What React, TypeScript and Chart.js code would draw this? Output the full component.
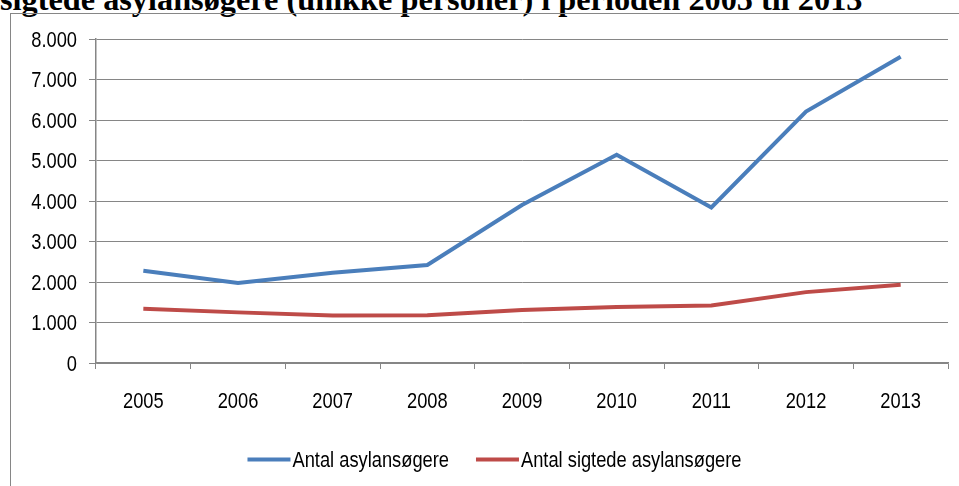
import React, { useEffect, useRef } from "react";
import { Chart, registerables } from "chart.js";

Chart.register(...registerables);

const TITLE = "sigtede asylansøgere (unikke personer) i perioden 2005 til 2013";
const years = ["2005", "2006", "2007", "2008", "2009", "2010", "2011", "2012", "2013"];
const asylumSeekers = [2280, 1975, 2230, 2420, 3900, 5140, 3840, 6210, 7560];
const chargedAsylumSeekers = [1340, 1250, 1170, 1180, 1310, 1380, 1420, 1750, 1930];
const seriesLabels = ["Antal asylansøgere", "Antal sigtede asylansøgere"];
const yMin = 0;
const yMax = 8000;
const yStep = 1000;

// Arial Narrow look: Liberation Sans squeezed horizontally to 82 %
const FONT = "'Liberation Sans', Arial, sans-serif";
const FONT_SIZE = 22.3;
const NARROW = 0.82;
const BLUE = "#4a7ebb";
const RED = "#be4b48";
const GRID = "#868686";

const formatDa = (v: number) => String(v).replace(/\B(?=(\d{3})+(?!\d))/g, ".");

function narrowText(
  ctx: CanvasRenderingContext2D,
  text: string,
  x: number,
  y: number,
  align: CanvasTextAlign
) {
  ctx.save();
  ctx.translate(x, y);
  ctx.scale(NARROW, 1);
  ctx.textAlign = align;
  ctx.textBaseline = "alphabetic";
  ctx.fillText(text, 0, 0);
  ctx.restore();
}

const labelsPlugin = {
  id: "narrowLabels",
  afterDraw(chart: any) {
    const ctx = chart.ctx as CanvasRenderingContext2D;
    ctx.save();
    ctx.font = `${FONT_SIZE}px ${FONT}`;
    ctx.fillStyle = "#000";
    const capHalf = FONT_SIZE * 0.358;

    // y axis labels
    const ys = chart.scales.y;
    for (const t of ys.ticks) {
      const py = ys.getPixelForValue(t.value);
      narrowText(ctx, formatDa(t.value), ys.right - 19, py + capHalf, "right");
    }
    // x axis labels
    const xs = chart.scales.x;
    xs.ticks.forEach((t: any, i: number) => {
      const px = xs.getPixelForTick(i);
      narrowText(ctx, String(xs.getLabelForValue(t.value)), px, 400 + capHalf, "center");
    });

    // legend
    const LINE_LEN = 43;
    const GAP = 2;
    const ITEM_GAP = 27;
    const cx = 494.5;
    const cy = 459.4;
    const items = chart.data.datasets.map((ds: any) => ({
      label: ds.label as string,
      color: ds.borderColor as string,
      w: ctx.measureText(ds.label).width * NARROW,
    }));
    const total =
      items.reduce((s: number, it: any) => s + LINE_LEN + GAP + it.w, 0) +
      ITEM_GAP * (items.length - 1);
    let x = cx - total / 2;
    for (const it of items) {
      ctx.beginPath();
      ctx.strokeStyle = it.color;
      ctx.lineWidth = 4;
      ctx.lineCap = "butt";
      ctx.moveTo(x, cy);
      ctx.lineTo(x + LINE_LEN, cy);
      ctx.stroke();
      narrowText(ctx, it.label, x + LINE_LEN + GAP, cy + capHalf, "left");
      x += LINE_LEN + GAP + it.w + ITEM_GAP;
    }
    ctx.restore();
  },
};

export default function App() {
  const ref = useRef<HTMLCanvasElement>(null);

  useEffect(() => {
    if (!ref.current) return;
    const chart = new Chart(ref.current, {
      type: "line",
      data: {
        labels: years,
        datasets: [
          {
            label: seriesLabels[0],
            data: asylumSeekers,
            borderColor: BLUE,
            backgroundColor: BLUE,
            borderWidth: 4,
            pointRadius: 0,
            tension: 0,
          },
          {
            label: seriesLabels[1],
            data: chargedAsylumSeekers,
            borderColor: RED,
            backgroundColor: RED,
            borderWidth: 4,
            pointRadius: 0,
            tension: 0,
          },
        ],
      },
      options: {
        responsive: false,
        animation: false,
        layout: { padding: { top: 39, right: 11, left: 0, bottom: 0 } },
        plugins: {
          legend: { display: false },
          title: { display: false },
          tooltip: { enabled: false },
        },
        scales: {
          x: {
            offset: true,
            grid: {
              offset: true,
              drawOnChartArea: false,
              drawTicks: true,
              tickLength: 6,
              color: GRID,
            },
            border: { color: GRID, width: 1.5 },
            ticks: { display: false, maxRotation: 0, autoSkip: false },
            afterFit: (scale: any) => {
              scale.height = 123;
            },
          },
          y: {
            min: yMin,
            max: yMax,
            grid: {
              color: GRID,
              lineWidth: 1,
              drawTicks: true,
              tickLength: 7,
            },
            border: { color: GRID, width: 1.5 },
            ticks: { display: false, stepSize: yStep },
            afterFit: (scale: any) => {
              scale.width = 96;
            },
          },
        },
      },
      plugins: [labelsPlugin],
    });
    return () => chart.destroy();
  }, []);

  return (
    <div
      style={{
        position: "fixed",
        left: 0,
        top: 0,
        width: 959,
        height: 486,
        overflow: "hidden",
        background: "#fff",
      }}
    >
      <div
        style={{
          position: "absolute",
          left: 0,
          top: -17,
          whiteSpace: "nowrap",
          fontFamily: "'Liberation Serif', 'Times New Roman', serif",
          fontWeight: "bold",
          fontSize: 32.3,
          lineHeight: "32px",
          color: "#000",
        }}
      >
        {TITLE}
      </div>
      <div
        style={{
          position: "absolute",
          left: 10,
          top: 13,
          width: 2000,
          height: 2000,
          borderLeft: "1.5px solid #868686",
          borderTop: "1.5px solid #868686",
        }}
      />
      <canvas
        ref={ref}
        width={959}
        height={486}
        style={{ position: "absolute", left: 0, top: 0, width: 959, height: 486 }}
      />
    </div>
  );
}
